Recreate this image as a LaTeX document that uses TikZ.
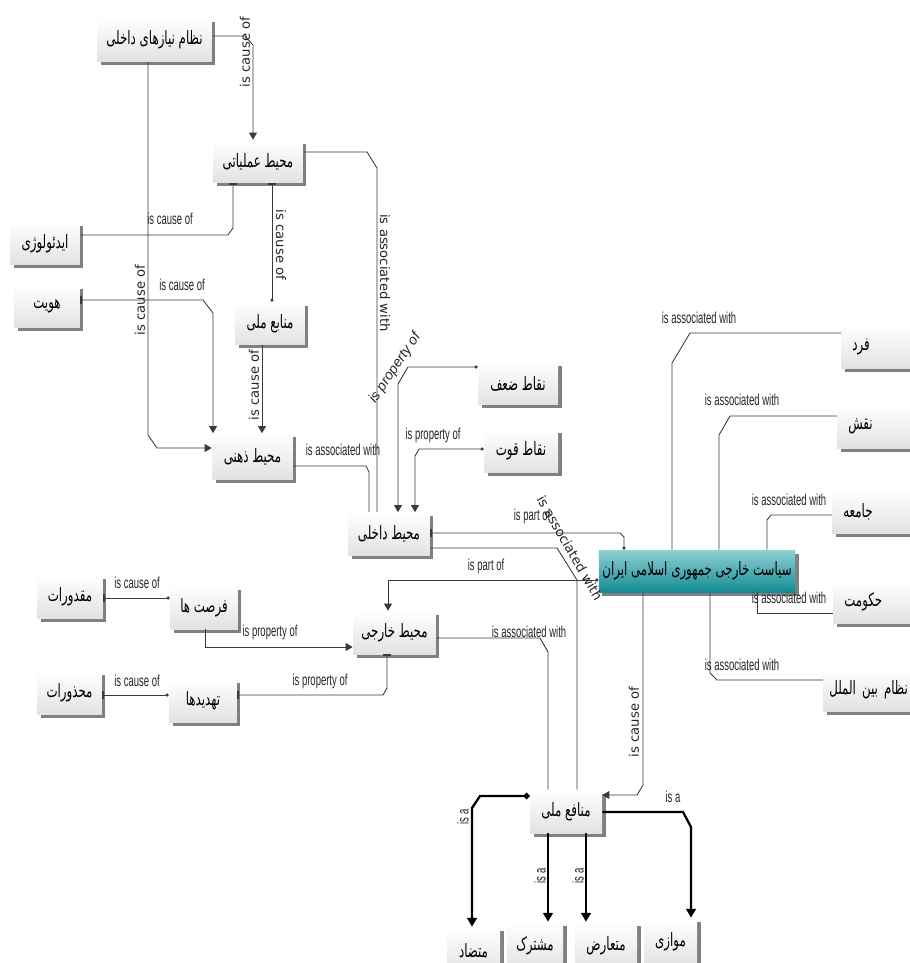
\documentclass[tikz,border=0pt]{standalone}
\usepackage{fontspec}
\usetikzlibrary{arrows.meta,shadows}
\TeXXeTstate=1
\newfontfamily\fafont[Script=Arabic,FakeStretch=0.64]{DejaVu Sans}
\newfontfamily\lblfont[FakeStretch=0.6]{Liberation Sans}
\newfontfamily\itlblfont{Liberation Sans}
\newfontfamily\vlblfont{DejaVu Sans}
\newcommand{\fa}[1]{\fafont\beginR #1\endR}
\definecolor{linegray}{HTML}{3A3A3A}
\definecolor{boxgray}{HTML}{E2E2E2}
\definecolor{shadowgray}{HTML}{808080}
\definecolor{tealtop}{HTML}{8FD0D4}
\definecolor{tealbot}{HTML}{138C94}

\begin{document}
\begin{tikzpicture}[x=0.02cm,y=-0.02cm,
    box/.style={rectangle,top color=white,bottom color=boxgray,minimum height=0.86cm,inner sep=2pt,
        font=\fontsize{10.5}{12}\selectfont,
        drop shadow={shadow xshift=0.07cm,shadow yshift=-0.07cm,opacity=1,fill=shadowgray}},
    rbox/.style={box,anchor=west,text width=2cm,align=left,inner xsep=0.22cm},
    hub/.style={box,top color=tealtop,bottom color=tealbot},
    rel/.style={draw=linegray,line width=0.5pt},
    isa/.style={draw=black,line width=1.3pt},
    lbl/.style={font=\lblfont\fontsize{9}{10}\selectfont,text=black!85,inner sep=0pt},
    vlbl/.style={font=\vlblfont\fontsize{7.5}{9}\selectfont,text=black!85,inner sep=0pt},
    ptri/.tip={Triangle[length=4pt,width=4.5pt]},
    pbar/.tip={Bar[width=4pt,line width=0.8pt]},
    pdot/.tip={Circle[length=1.8pt]},
    btri/.tip={Triangle[length=5pt,width=5.5pt]},
    bdot/.tip={Circle[length=3.5pt]},
    ]
    \fill[white] (0,0) rectangle (909,963);
    \useasboundingbox (0,0) rectangle (909,963);

    \node[box,minimum width=2.3cm] (nz) at (154.5,40) {\fa{نظام نیازهای داخلی}};
    \node[box,minimum width=1.8cm] (amal) at (258,161.5) {\fa{محیط عملیاتی}};
    \node[box,minimum width=1.4cm] (ideo) at (45,243.5) {\fa{ایدئولوژی}};
    \node[box,minimum width=1.32cm] (hoviat) at (47,306.5) {\fa{هویت}};
    \node[box,minimum width=1.4cm] (manab) at (270,323.5) {\fa{منابع ملی}};
    \node[box,minimum width=1.62cm,minimum height=0.92cm] (zehni) at (252.5,456.5) {\fa{محیط ذهنی}};
    \node[box,minimum width=1.6cm] (zaf) at (518,383.5) {\fa{نقاط ضعف}};
    \node[box,minimum width=1.48cm] (qovat) at (521,451) {\fa{نقاط قوت}};
    \node[box,minimum width=1.64cm] (dakheli) at (389,534) {\fa{محیط داخلی}};
    \node[hub,minimum width=3.88cm,minimum height=0.84cm] (siasat) at (697,571) {\fa{سیاست خارجی جمهوری اسلامی ایران}};
    \node[rbox] (fard) at (841,347) {\fa{فرد}};
    \node[rbox] (naqsh) at (837,426.5) {\fa{نقش}};
    \node[rbox] (jame) at (832,511.5) {\fa{جامعه}};
    \node[rbox] (hokumat) at (833,602) {\fa{حکومت}};
    \node[rbox,inner xsep=0.12cm] (nezam) at (823,689.5) {\fa{نظام بین الملل}};
    \node[box,minimum width=1.32cm] (maqdur) at (70,596.5) {\fa{مقدورات}};
    \node[box,minimum width=1.36cm] (forsat) at (204,607.5) {\fa{فرصت ها}};
    \node[box,minimum width=1.66cm] (khareji) at (394.5,632.5) {\fa{محیط خارجی}};
    \node[box,minimum width=1.3cm] (mahzur) at (69.5,693) {\fa{محذورات}};
    \node[box,minimum width=1.36cm] (tahdid) at (203,700.5) {\fa{تهدیدها}};
    \node[box,minimum width=1.44cm] (manafe) at (566,811.5) {\fa{منافع ملی}};
    \node[box,minimum width=1.06cm,minimum height=0.96cm] (motazad) at (473.5,951) {\fa{متضاد}};
    \node[box,minimum width=1.12cm,minimum height=0.96cm] (moshtarak) at (535,946) {\fa{مشترک}};
    \node[box,minimum width=1.24cm,minimum height=0.96cm] (moaarez) at (606,946) {\fa{متعارض}};
    \node[box,minimum width=1.06cm,minimum height=0.96cm] (movazi) at (670.5,942) {\fa{موازی}};

    \draw[rel,-ptri] (nz.east |- 0,36) -- (245,36) -- (253,45) -- (253,0 |- amal.north);
    \draw[rel,-ptri] (148,0 |- nz.south) -- (148,435) -- (157,448) -- (zehni.west |- 0,448);
    \draw[rel] (amal.east |- 0,152) -- (367,152) -- (377,168) -- (377,0 |- dakheli.north);
    \draw[rel,-pbar] (ideo.east |- 0,235) -- (228,235) -- (233,228) -- (233,0 |- amal.south);
    \draw[rel,pbar-pdot] (272,0 |- amal.south) -- (272,0 |- manab.north);
    \draw[rel,pbar-ptri] (hoviat.east |- 0,300) -- (203,300) -- (213,313) -- (213,0 |- zehni.north);
    \draw[rel,-ptri] (262,0 |- manab.south) -- (262,0 |- zehni.north);
    \draw[rel] (zehni.east |- 0,466) -- (366,466) -- (369,472) -- (369,0 |- dakheli.north);
    \draw[rel,pdot-ptri] (zaf.west |- 0,367) -- (408,367) -- (398,384) -- (398,0 |- dakheli.north);
    \draw[rel,pdot-ptri] (qovat.west |- 0,449) -- (419,449) -- (415,456) -- (415,0 |- dakheli.north);
    \draw[rel,pdot-pbar] (624,0 |- siasat.north) -- (624,537) -- (620,533) -- (dakheli.east |- 0,533);
    \draw[rel] (dakheli.east |- 0,548) -- (557,548) -- (577,580) -- (577,0 |- manafe.north);
    \draw[rel] (khareji.east |- 0,638) -- (540,638) -- (548,652) -- (548,0 |- manafe.north);
    \draw[rel,pdot-ptri] (siasat.west |- 0,580) -- (388,580) -- (388,0 |- khareji.north);
    \draw[rel,-ptri] (205,0 |- forsat.south) -- (205,647) -- (khareji.west |- 0,647);
    \draw[rel,pbar-pbar] (tahdid.east |- 0,695) -- (383,695) -- (387,688) -- (387,0 |- khareji.south);
    \draw[rel,pbar-pdot] (maqdur.east |- 0,598) -- (forsat.west |- 0,598);
    \draw[rel,pbar-pdot] (mahzur.east |- 0,695) -- (tahdid.west |- 0,695);
    \draw[rel,-ptri] (643,0 |- siasat.south) -- (643,785) -- (637,795) -- (manafe.east |- 0,795);
    \draw[rel] (672,0 |- siasat.north) -- (672,363) -- (690,333) -- (fard.west |- 0,333);
    \draw[rel] (719,0 |- siasat.north) -- (719,435) -- (730,416) -- (naqsh.west |- 0,416);
    \draw[rel] (767,0 |- siasat.north) -- (767,520) -- (771,515) -- (jame.west |- 0,515);
    \draw[rel] (757,0 |- siasat.south) -- (757,613) -- (hokumat.west |- 0,613);
    \draw[rel] (710,0 |- siasat.south) -- (710,673) -- (717,680) -- (nezam.west |- 0,680);
    \draw[isa,bdot-btri] (manafe.west |- 0,796) -- (480,796) -- (472,808) -- (472,0 |- motazad.north);
    \draw[isa,-btri] (548,0 |- manafe.south) -- (548,0 |- moshtarak.north);
    \draw[isa,-btri] (586,0 |- manafe.south) -- (586,0 |- moaarez.north);
    \draw[isa,-btri] (manafe.east |- 0,812) -- (683,812) -- (691,827) -- (691,0 |- movazi.north);

    \node[vlbl,rotate=90] (l1) at (245,52) {is cause of};
    \node[vlbl,rotate=90] (l2) at (140,300) {is cause of};
    \node[vlbl,rotate=-90] (l3) at (385,273) {is associated with};
    \node[lbl] (l4) at (170,219) {is cause of};
    \node[vlbl,rotate=-90] (l5) at (281,245) {is cause of};
    \node[lbl] (l6) at (182,285) {is cause of};
    \node[vlbl,rotate=90] (l7) at (254,385) {is cause of};
    \node[lbl] (l8) at (343,450) {is associated with};
    \node[lbl,font=\itlblfont\itshape\fontsize{8}{9}\selectfont,rotate=56] (l9) at (395,368) {is property of};
    \node[lbl] (l10) at (433,435) {is property of};
    \node[lbl] (l11) at (532,516) {is part of};
    \node[vlbl,rotate=-60] (l12) at (570,548) {is associated with};
    \node[lbl] (l13) at (529,632) {is associated with};
    \node[lbl] (l14) at (486,566) {is part of};
    \node[lbl] (l15) at (270,632) {is property of};
    \node[lbl] (l16) at (320,681) {is property of};
    \node[lbl] (l17) at (137,583) {is cause of};
    \node[lbl] (l18) at (137,681) {is cause of};
    \node[vlbl,rotate=90] (l19) at (634,722) {is cause of};
    \node[lbl] (l20) at (699,318) {is associated with};
    \node[lbl] (l21) at (742,400) {is associated with};
    \node[lbl] (l22) at (789,500) {is associated with};
    \node[lbl] (l23) at (789,598) {is associated with};
    \node[lbl] (l24) at (742,665) {is associated with};
    \node[lbl,rotate=90] (l25) at (463,817) {is a};
    \node[lbl,rotate=90] (l26) at (540,876) {is a};
    \node[lbl,rotate=90] (l27) at (578,876) {is a};
    \node[lbl] (l28) at (673,797) {is a};
\end{tikzpicture}
\end{document}
